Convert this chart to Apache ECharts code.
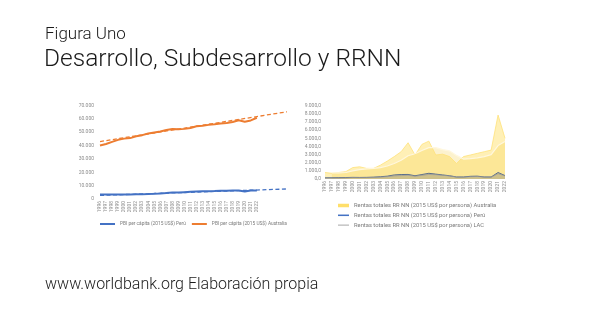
<!DOCTYPE html>
<html>
<head>
<meta charset="utf-8">
<script src="https://cdn.jsdelivr.net/npm/echarts@6/dist/echarts.min.js"></script>
<style>
  html, body { margin: 0; padding: 0; background: #ffffff; }
  #chart { width: 589px; height: 331px; }
</style>
</head>
<body>
<div id="chart"></div>
<script>
// Years shown on both panels
const years = ['1996','1997','1998','1999','2000','2001','2002','2003','2004','2005','2006','2007','2008','2009','2010','2011','2012','2013','2014','2015','2016','2017','2018','2019','2020','2021','2022'];
// Forecast periods the linear trend lines extend into (unlabelled)
const forecastYears = ['2023','2024','2025','2026','2027'];

// GDP per capita, constant 2015 US$
const gdpPeru = [3300,3450,3380,3360,3390,3350,3490,3580,3710,3890,4150,4450,4800,4790,5130,5380,5630,5870,5890,5990,6150,6230,6390,6420,5610,6300,6390];
const gdpAustralia = [40000,41200,42800,44300,45200,45600,46900,47800,49000,49800,50500,51700,52400,52200,52500,53200,54400,54900,55500,55900,56500,56900,57700,58900,57900,58800,60800];
// Linear trend end points (first year, last forecast period)
const trendPeru = [2700, 7500];
const trendAustralia = [43000, 65300];

// Total natural resource rents per person, constant 2015 US$
const rentsAustralia = [800,700,800,900,1400,1500,1300,1300,1700,2200,2750,3350,4450,2950,4250,4650,2950,3050,2750,1900,2750,2950,3150,3350,3550,7850,5000];
const rentsAustraliaAvg = [null,750,760,800,1000,1150,1250,1300,1400,1600,1900,2300,2850,3100,3500,3850,3850,3600,3450,2900,2450,2500,2600,2750,3000,4100,4600];
const rentsPeru = [150,160,170,180,200,190,200,230,280,350,500,550,560,400,550,700,600,500,400,250,250,330,350,250,250,800,420];
const rentsLAC = [120,130,120,130,180,170,170,190,230,280,380,420,450,330,440,560,520,450,380,240,230,280,300,250,220,650,380];

const fmtThousands = v => String(v).replace(/\B(?=(\d{3})+(?!\d))/g, '.');
const fmtDecimal = v => fmtThousands(v) + ',0';

const tickFont = { fontFamily: 'Roboto', fontSize: 5, color: '#8c8c8c' };
const legendLeftFont = { fontFamily: 'Roboto', fontSize: 4.8, color: '#7a7a7a', lineHeight: 5 };
const legendRightFont = { fontFamily: 'Roboto', fontSize: 5.8, color: '#7a7a7a', lineHeight: 4 };

function withEnds(arr, len) {
  const out = new Array(len).fill(null);
  out[0] = arr[0];
  out[len - 1] = arr[1];
  return out;
}
const leftCats = years.concat(forecastYears);

const chart = echarts.init(document.getElementById('chart'), null, { renderer: 'canvas' });

chart.setOption({
  backgroundColor: '#ffffff',
  animation: false,
  graphic: [
    { type: 'text', left: 45, top: 26.5, style: { text: 'Figura Uno', font: '300 17px Roboto', fill: '#1a1a1a' } },
    { type: 'text', left: 44, top: 47.5, style: { text: 'Desarrollo, Subdesarrollo y RRNN', font: '300 24.5px Roboto', fill: '#1a1a1a' } },
    { type: 'text', left: 45, top: 277, style: { text: 'www.worldbank.org Elaboración propia', font: '300 16px Roboto', fill: '#1a1a1a' } }
  ],
  grid: [
    { left: 100, top: 105.5, width: 187, height: 93.5 },
    { left: 325, top: 105.7, width: 180, height: 73.3 }
  ],
  xAxis: [
    {
      type: 'category', gridIndex: 0, data: leftCats, boundaryGap: false,
      axisLine: { show: false }, axisTick: { show: false },
      axisLabel: Object.assign({ rotate: 90, interval: 0, margin: 2,
        formatter: v => (years.indexOf(v) >= 0 ? v : '') }, tickFont)
    },
    {
      type: 'category', gridIndex: 1, data: years, boundaryGap: false,
      axisLine: { show: false }, axisTick: { show: false },
      axisLabel: Object.assign({ rotate: 90, interval: 0, margin: 2 }, tickFont)
    }
  ],
  yAxis: [
    {
      type: 'value', gridIndex: 0, min: 0, max: 70000, interval: 10000,
      splitLine: { show: false }, axisLine: { show: false }, axisTick: { show: false },
      axisLabel: Object.assign({ margin: 6, formatter: fmtThousands }, tickFont)
    },
    {
      type: 'value', gridIndex: 1, min: 0, max: 9000, interval: 1000,
      splitLine: { show: false }, axisLine: { show: false }, axisTick: { show: false },
      axisLabel: Object.assign({ margin: 4, formatter: fmtDecimal }, tickFont)
    }
  ],
  legend: [
    {
      left: 95, top: 216.5, itemWidth: 15, itemHeight: 2, itemGap: 6,
      textStyle: legendLeftFont,
      data: [
        { name: 'PBI per cápita (2015 US$) Perú', icon: 'rect' },
        { name: 'PBI per cápita (2015 US$) Australia', icon: 'rect' }
      ]
    },
    {
      left: 333, top: 197.5, orient: 'vertical', itemWidth: 11, itemHeight: 3.5, itemGap: 3.8,
      textStyle: legendRightFont,
      data: [
        { name: 'Rentas totales RR NN (2015 US$ por persona) Australia', icon: 'rect', itemStyle: { color: '#FFDF6A' } },
        { name: 'Rentas totales RR NN (2015 US$ por persona) Perú', icon: 'path://M0,1.1H10V2.5H0Z', itemStyle: { color: '#4472C4' } },
        { name: 'Rentas totales RR NN (2015 US$ por persona) LAC', icon: 'path://M0,1.35H10V2.25H0Z', itemStyle: { color: '#A5A5A5' } }
      ]
    }
  ],
  series: [
    {
      name: 'PBI per cápita (2015 US$) Perú', type: 'line', xAxisIndex: 0, yAxisIndex: 0,
      data: gdpPeru, symbol: 'none', color: '#4472C4',
      lineStyle: { width: 2, color: '#4472C4' }, z: 3
    },
    {
      name: 'PBI per cápita (2015 US$) Australia', type: 'line', xAxisIndex: 0, yAxisIndex: 0,
      data: gdpAustralia, symbol: 'none', color: '#ED7D31',
      lineStyle: { width: 2, color: '#ED7D31' }, z: 3
    },
    {
      name: 'trend-peru', type: 'line', xAxisIndex: 0, yAxisIndex: 0,
      data: withEnds(trendPeru, leftCats.length), connectNulls: true, symbol: 'none',
      lineStyle: { width: 1.3, color: '#4472C4', type: [4, 2.5] }, z: 4
    },
    {
      name: 'trend-australia', type: 'line', xAxisIndex: 0, yAxisIndex: 0,
      data: withEnds(trendAustralia, leftCats.length), connectNulls: true, symbol: 'none',
      lineStyle: { width: 1.3, color: '#ED7D31', type: [4, 2.5] }, z: 4
    },
    {
      name: 'Rentas totales RR NN (2015 US$ por persona) Australia', type: 'line', xAxisIndex: 1, yAxisIndex: 1,
      data: rentsAustralia, symbol: 'none', color: '#FFDF6A',
      lineStyle: { width: 0.8, color: '#FFE27A' },
      areaStyle: { color: 'rgba(255,226,110,0.5)', opacity: 1 }, z: 2
    },
    {
      name: 'avg-australia', type: 'line', xAxisIndex: 1, yAxisIndex: 1,
      data: rentsAustraliaAvg, symbol: 'none',
      lineStyle: { width: 1.2, color: '#FFF7DE' },
      areaStyle: { color: 'rgba(245,205,60,0.25)', opacity: 1 }, z: 2
    },
    {
      name: 'Rentas totales RR NN (2015 US$ por persona) Perú', type: 'line', xAxisIndex: 1, yAxisIndex: 1,
      data: rentsPeru, symbol: 'none', color: '#4472C4',
      lineStyle: { width: 1, color: '#5a6e8c' },
      areaStyle: { color: 'rgba(100,105,110,0.3)', opacity: 1 }, z: 3
    },
    {
      name: 'Rentas totales RR NN (2015 US$ por persona) LAC', type: 'line', xAxisIndex: 1, yAxisIndex: 1,
      data: rentsLAC, symbol: 'none', color: '#A5A5A5',
      lineStyle: { width: 0.7, color: '#9a9a9a' }, z: 3
    }
  ]
});
</script>
</body>
</html>
